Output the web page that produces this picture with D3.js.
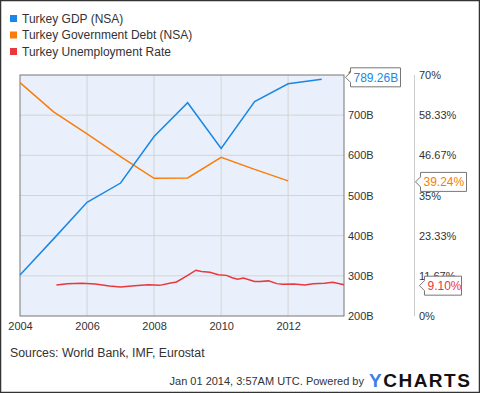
<!DOCTYPE html>
<meta charset="utf-8">
<style>
body { margin: 0; }
svg { font-family: "Liberation Sans", Arial, sans-serif; }
.tick text { fill: #333; font-size: 11px; }
</style>
<body>
<script src="https://d3js.org/d3.v7.min.js"></script>
<script>

var gdpYears = [2004, 2005, 2006, 2007, 2008, 2009, 2010, 2011, 2012, 2013];
var gdpValues = [302, 392, 483, 531, 647, 731, 617, 734, 778, 789.26];

var debtYears = [2004, 2005, 2006, 2007, 2008, 2009, 2010, 2011, 2012];
var debtValues = [67.8, 59.3, 52.9, 46.3, 40.0, 40.1, 46.1, 42.6, 39.24];

var unempDates = ["2005-02", "2005-06", "2005-11", "2006-04", "2006-09", "2007-01",
  "2007-06", "2007-11", "2008-03", "2008-07", "2008-09", "2008-12", "2009-02",
  "2009-04", "2009-06", "2009-09", "2009-12", "2010-03", "2010-05", "2010-07",
  "2010-09", "2011-01", "2011-03", "2011-06", "2011-09", "2011-11", "2012-03",
  "2012-07", "2012-10", "2013-02", "2013-05", "2013-09"];
var unempValues = [9.0, 9.4, 9.5, 9.3, 8.7, 8.4, 8.8, 9.1, 8.9, 9.6, 9.9, 11.3, 12.3,
  13.3, 12.9, 12.7, 12.0, 11.8, 11.1, 10.7, 11.0, 10.0, 10.0, 10.2, 9.4, 9.2, 9.3,
  9.0, 9.4, 9.5, 9.8, 9.1];

var leftTicks = [200, 300, 400, 500, 600, 700, 800];
var rightTicks = [0, 11.67, 23.33, 35, 46.67, 58.33, 70];
var xTicks = [2004, 2006, 2008, 2010, 2012];

var series = ["Turkey GDP (NSA)", "Turkey Government Debt (NSA)", "Turkey Unemployment Rate"];
var colors = ["#1a87e6", "#fa7d0a", "#e8383d"];

var W = 480, H = 393;
var plot = {left: 20, top: 75, right: 344, bottom: 316};

var parseMonth = d3.timeParse("%Y-%m");
var yr = function(y) { return new Date(y, 0, 1); };

var x = d3.scaleTime()
    .domain([yr(2004), new Date(2013, 8, 1)])
    .range([plot.left, plot.right]);
var yL = d3.scaleLinear().domain([200, 800]).range([plot.bottom, plot.top]);
var yR = d3.scaleLinear().domain([0, 70]).range([plot.bottom, plot.top]);

var svg = d3.select("body").append("svg")
    .attr("width", W)
    .attr("height", H);

svg.append("rect")
    .attr("x", 0.5).attr("y", 0.5)
    .attr("width", W - 1).attr("height", H - 1)
    .attr("fill", "#fff")
    .attr("stroke", "#333")
    .attr("stroke-width", 1.5);

// legend
var legend = svg.selectAll(".legend")
  .data(series)
  .enter().append("g")
    .attr("transform", function(d, i) { return "translate(10," + (15 + i * 16.5) + ")"; });
legend.append("rect")
    .attr("width", 7).attr("height", 7)
    .attr("fill", function(d, i) { return colors[i]; });
legend.append("text")
    .attr("x", 12).attr("y", 7.5)
    .attr("font-size", 12)
    .attr("fill", "#333")
    .text(function(d) { return d; });

// plot background
svg.append("rect")
    .attr("x", plot.left).attr("y", plot.top)
    .attr("width", plot.right - plot.left).attr("height", plot.bottom - plot.top)
    .attr("fill", "#e9f0fb");

// grid
svg.append("g").selectAll("line")
  .data(leftTicks.slice(1, -1))
  .enter().append("line")
    .attr("x1", plot.left).attr("x2", plot.right)
    .attr("y1", function(d) { return yL(d); })
    .attr("y2", function(d) { return yL(d); })
    .attr("stroke", "#d4d4d4");
svg.append("g").selectAll("line")
  .data(xTicks.slice(1))
  .enter().append("line")
    .attr("y1", plot.top).attr("y2", plot.bottom)
    .attr("x1", function(d) { return x(yr(d)); })
    .attr("x2", function(d) { return x(yr(d)); })
    .attr("stroke", "#d4d4d4");

svg.append("rect")
    .attr("x", plot.left).attr("y", plot.top)
    .attr("width", plot.right - plot.left).attr("height", plot.bottom - plot.top)
    .attr("fill", "none")
    .attr("stroke", "#777");

// axes
var xAxis = svg.append("g")
    .attr("transform", "translate(0," + plot.bottom + ")")
    .call(d3.axisBottom(x).tickValues(xTicks.map(yr)).tickFormat(d3.timeFormat("%Y")).tickSize(0).tickPadding(6));
xAxis.select(".domain").remove();

var leftAxis = svg.append("g")
    .attr("transform", "translate(" + (plot.right + 4) + ",0)")
    .call(d3.axisRight(yL).tickValues(leftTicks).tickFormat(function(d) { return d + "B"; }).tickSize(0).tickPadding(0));
leftAxis.select(".domain").remove();

svg.append("line")
    .attr("x1", 414.5).attr("x2", 414.5)
    .attr("y1", plot.top).attr("y2", plot.bottom)
    .attr("stroke", "#ccc");

var rightAxis = svg.append("g")
    .attr("transform", "translate(419,0)")
    .call(d3.axisRight(yR).tickValues(rightTicks).tickFormat(function(d) { return d + "%"; }).tickSize(0).tickPadding(0));
rightAxis.select(".domain").remove();

// lines
var gdpLine = d3.line()
    .x(function(d, i) { return x(yr(gdpYears[i])); })
    .y(function(d) { return yL(d); });
var debtLine = d3.line()
    .x(function(d, i) { return x(yr(debtYears[i])); })
    .y(function(d) { return yR(d); });
var unempLine = d3.line()
    .x(function(d, i) { return x(parseMonth(unempDates[i])); })
    .y(function(d) { return yR(d); });

svg.append("path").datum(unempValues).attr("d", unempLine)
    .attr("fill", "none").attr("stroke", colors[2]).attr("stroke-width", 1.5);
svg.append("path").datum(debtValues).attr("d", debtLine)
    .attr("fill", "none").attr("stroke", colors[1]).attr("stroke-width", 1.5);
svg.append("path").datum(gdpValues).attr("d", gdpLine)
    .attr("fill", "none").attr("stroke", colors[0]).attr("stroke-width", 1.5);

// value callouts
function callout(x0, yc, w, text, color) {
  var h = 19, g = svg.append("g");
  g.append("path")
    .attr("d", "M" + x0 + "," + yc + " L" + (x0 + 5) + "," + (yc - 5) + " V" + (yc - h / 2) +
      " H" + (x0 + 5 + w) + " V" + (yc + h / 2) + " H" + (x0 + 5) + " V" + (yc + 5) + " Z")
    .attr("fill", "#fff").attr("stroke", "#777");
  g.append("text")
    .attr("x", x0 + 8).attr("y", yc + 4.5)
    .attr("font-size", 12).attr("fill", color)
    .text(text);
}
callout(345.5, yL(gdpValues[gdpValues.length - 1]) - 2, 50, "789.26B", colors[0]);
callout(415.5, yR(debtValues[debtValues.length - 1]) + 1, 46, "39.24%", colors[1]);
callout(419.5, yR(unempValues[unempValues.length - 1]) + 1, 37, "9.10%", colors[2]);

// footer
svg.append("text")
    .attr("x", 10).attr("y", 357)
    .attr("font-size", 12.3).attr("fill", "#333")
    .text("Sources: World Bank, IMF, Eurostat");
svg.append("text")
    .attr("x", 364).attr("y", 385)
    .attr("text-anchor", "end")
    .attr("font-size", 11).attr("fill", "#333")
    .text("Jan 01 2014, 3:57AM UTC.  Powered by");
var logo = svg.append("text")
    .attr("x", 369).attr("y", 387)
    .attr("font-size", 19).attr("font-weight", "bold")
    .attr("letter-spacing", 1.5)
    .attr("fill", "#111");
logo.append("tspan").attr("fill", "#3d7fe6").text("Y");
logo.append("tspan").text("CHARTS");

</script>
</body>
